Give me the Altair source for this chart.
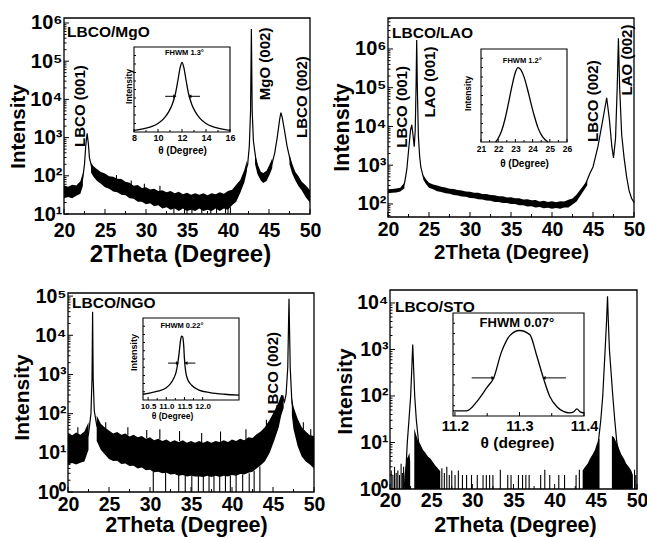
import altair as alt
import pandas as pd

W, H = 647, 538
FONT = "Liberation Sans"
INK = "black"

# ======================= DATA (estimated from the figure) =======================
X_TICKS = [20, 25, 30, 35, 40, 45, 50]
X_MINOR = [22.5, 27.5, 32.5, 37.5, 42.5, 47.5]

# ---- (a) LBCO/MgO : (2theta, counts)
A_LINE = [(20, 38), (21, 38), (22, 50), (22.3, 90), (22.5, 200), (22.65, 600), (22.82, 1300),
          (22.97, 700), (23.1, 300), (23.4, 160), (23.8, 120), (24.5, 90), (25, 75), (26, 62),
          (27, 52), (28, 42), (30, 32), (32, 27), (34, 24), (36, 22), (38, 22), (40, 24),
          (41, 36), (41.5, 55), (42, 100), (42.4, 200), (42.6, 600), (42.75, 5000),
          (42.85, 700000), (42.95, 5000), (43.1, 800), (43.4, 270), (43.8, 120), (44.3, 90),
          (44.8, 110), (45.3, 180), (45.7, 400), (46.0, 1000), (46.3, 3000), (46.45, 4500),
          (46.6, 3500), (46.9, 1500), (47.2, 600), (47.6, 250), (48, 120), (48.5, 70),
          (49, 48), (49.5, 35), (50, 28)]
A_NOISE = [
    [(20, 26, 56), (20.5, 28, 52), (21, 26, 58), (21.5, 30, 56), (22, 34, 72), (22.3, 55, 120)],
    [(23.3, 120, 220), (23.6, 95, 178), (24, 74, 150), (24.5, 62, 125), (25, 50, 115),
     (25.5, 46, 98), (26, 39, 95), (26.5, 37, 84), (27, 32, 82), (27.5, 31, 70), (28, 26, 66),
     (28.5, 25, 55), (29, 21, 57), (29.5, 21, 48), (30, 18, 50), (30.5, 19, 44), (31, 16, 46),
     (31.5, 17, 40), (32, 14, 42), (32.5, 15, 37), (33, 13, 40), (33.5, 14, 35), (34, 12, 38),
     (34.5, 14, 33), (35, 12, 36), (35.5, 13, 32), (36, 12, 35), (36.5, 14, 32), (37, 12, 35),
     (37.5, 13, 31), (38, 12, 35), (38.5, 14, 33), (39, 12, 37), (39.5, 14, 34), (40, 13, 40),
     (40.5, 17, 43), (41, 21, 58), (41.5, 36, 78), (42, 68, 145), (42.3, 130, 250)],
    [(43.3, 200, 380), (43.6, 110, 205), (44, 75, 128), (44.3, 65, 118), (44.7, 73, 135),
     (45.1, 110, 205), (45.4, 160, 290)],
    [(47.5, 200, 360), (47.8, 118, 215), (48.2, 76, 128), (48.6, 53, 97), (49, 41, 70),
     (49.5, 27, 56), (50, 20, 42)],
]
A_SPIKES = [(33.4, 10.3, 14), (34.7, 10.3, 14), (35.6, 10.3, 14), (36.8, 10.3, 14),
            (37.9, 10.3, 14), (38.6, 10.3, 14), (39.7, 10.3, 14), (40.3, 10.3, 15),
            (26.4, 80, 105), (28.2, 55, 75), (29.8, 45, 62), (31.7, 40, 55)]
A_INSET = [(8.0, 0.02), (8.5, 0.03), (9.0, 0.045), (9.5, 0.065), (10.0, 0.1), (10.5, 0.16),
           (10.9, 0.24), (11.2, 0.33), (11.45, 0.45), (11.65, 0.6), (11.85, 0.76), (12.0, 0.82),
           (12.15, 0.76), (12.35, 0.6), (12.55, 0.45), (12.8, 0.33), (13.1, 0.24), (13.5, 0.16),
           (14.0, 0.1), (14.5, 0.065), (15.0, 0.045), (15.5, 0.03), (16.0, 0.02)]

# ---- (b) LBCO/LAO
B_LINE = [(20, 210), (21, 220), (21.5, 230), (22.0, 330), (22.15, 500), (22.3, 800),
          (22.55, 3000), (22.75, 8000), (22.9, 11000), (23.05, 6000), (23.2, 3000),
          (23.32, 8000), (23.42, 100000), (23.5, 1700000), (23.58, 100000), (23.7, 6000),
          (23.85, 1800), (24.0, 900), (24.3, 500), (24.7, 350), (25, 300), (26, 250), (27, 222),
          (28, 200), (30, 172), (32, 150), (34, 130), (36, 115), (38, 102), (40, 95), (41, 95),
          (42, 103), (43, 145), (44, 290), (44.6, 600), (45.0, 900), (45.6, 3000),
          (46.2, 15000), (46.67, 55000), (47.0, 15000), (47.3, 3000), (47.5, 1550),
          (47.75, 5000), (47.95, 100000), (48.1, 1900000), (48.25, 100000), (48.5, 6000),
          (48.8, 1500), (49.1, 500), (49.4, 220), (49.7, 140), (50, 110)]
B_NOISE = [
    [(20, 188, 238), (20.5, 194, 242), (21, 196, 250), (21.5, 208, 260), (22, 255, 350)],
    [(24.3, 430, 570), (24.6, 330, 440), (25, 262, 350), (25.5, 238, 318), (26, 214, 298),
     (26.5, 202, 276), (27, 188, 266), (27.5, 184, 246), (28, 170, 242), (28.5, 166, 228),
     (29, 155, 222), (29.5, 153, 208), (30, 143, 207), (30.5, 141, 193), (31, 132, 194),
     (31.5, 131, 180), (32, 123, 181), (32.5, 121, 170), (33, 113, 168), (33.5, 113, 158),
     (34, 105, 158), (34.5, 106, 147), (35, 99, 148), (35.5, 100, 140), (36, 92, 140),
     (36.5, 93, 130), (37, 86, 132), (37.5, 87, 124), (38, 81, 126), (38.5, 83, 116),
     (39, 77, 120), (39.5, 80, 112), (40, 75, 117), (40.5, 79, 110), (41, 75, 118),
     (41.5, 81, 116), (42, 81, 128), (42.5, 97, 139), (43, 116, 175), (43.7, 195, 275),
     (44.3, 305, 410)],
]
B_INSET = [(21.85, 0.0), (22.0, 0.04), (22.2, 0.12), (22.4, 0.25), (22.6, 0.42), (22.8, 0.6),
           (23.0, 0.75), (23.15, 0.8), (23.3, 0.78), (23.5, 0.7), (23.7, 0.57), (23.9, 0.42),
           (24.1, 0.28), (24.3, 0.16), (24.5, 0.08), (24.7, 0.03), (24.9, 0.0)]

# ---- (c) LBCO/NGO
C_LINE = [(20, 14), (21, 14), (22, 15), (22.5, 30), (22.8, 100), (22.93, 800), (23.0, 40000),
          (23.07, 800), (23.2, 120), (23.5, 50), (24, 28), (25, 18), (26, 15), (27, 13),
          (28, 11), (30, 9.5), (32, 8.5), (34, 7.5), (36, 7), (38, 7), (40, 7.5), (42, 9),
          (43, 12), (44, 20), (44.8, 40), (45.4, 80), (45.9, 160), (46.2, 250), (46.4, 200),
          (46.6, 320), (46.8, 1500), (46.95, 85000), (47.1, 1500), (47.3, 200), (47.6, 80),
          (48, 40), (48.5, 22), (49, 15), (49.5, 12), (50, 10)]
C_NOISE = [
    [(20, 5, 32), (20.5, 5.5, 28), (21, 5, 33), (21.5, 5.6, 29), (22, 6, 35), (22.5, 12, 60)],
    [(23.5, 20, 90), (24, 12, 55), (24.5, 9, 44), (25, 7, 37), (25.5, 6.2, 31), (26, 6.3, 34),
     (26.5, 5.2, 29), (27, 5.3, 31), (27.5, 4.6, 26), (28, 4.7, 29), (28.5, 4, 25),
     (29, 4.2, 27), (29.5, 3.6, 23), (30, 3.7, 25), (30.5, 3.2, 21), (31, 3.3, 23),
     (31.5, 3, 20), (32, 3.1, 22), (32.5, 2.8, 19), (33, 2.9, 21), (33.5, 2.6, 19),
     (34, 2.7, 21), (34.5, 2.5, 18), (35, 2.6, 20), (35.5, 2.5, 18), (36, 2.5, 20),
     (36.5, 2.4, 18), (37, 2.6, 20), (37.5, 2.4, 18), (38, 2.6, 20), (38.5, 2.4, 19),
     (39, 2.6, 21), (39.5, 2.5, 19), (40, 2.7, 22), (40.5, 2.6, 20), (41, 2.9, 23),
     (41.5, 2.8, 21), (42, 3.1, 25), (42.5, 3.3, 24), (43, 4, 30), (43.5, 4.8, 35),
     (44, 6, 45), (44.6, 10, 70), (45.2, 22, 120), (45.7, 45, 200), (46.0, 90, 300),
     (46.3, 140, 290)],
    [(47.3, 90, 260), (47.5, 40, 150), (48, 15, 75), (48.5, 8, 45), (49, 6, 35),
     (49.5, 5, 28), (50, 4, 27)],
]
C_SPIKES = [(30.4, 1, 3.5), (31.9, 1, 3.2), (33.5, 1, 2.8), (34.3, 1, 2.7), (35.1, 1, 2.6),
            (35.9, 1, 2.6), (36.5, 1, 2.6), (37.2, 1, 2.6), (37.8, 1, 2.6), (38.5, 1, 2.6),
            (39.2, 1, 2.6), (39.8, 1, 2.6), (40.5, 1, 2.7), (41.3, 1, 2.8), (42.1, 1, 3),
            (42.7, 1, 3.5), (43.4, 1, 4.5),
            (21.2, 28, 45), (24.6, 40, 60), (27.3, 28, 45), (29.6, 24, 38), (31.2, 22, 40),
            (33.6, 20, 36), (36.3, 19, 32), (38.6, 19, 35), (41.7, 22, 40), (44.2, 45, 70),
            (48.7, 40, 60), (49.6, 27, 40)]
C_INSET = [(10.36, 0.07), (10.6, 0.09), (10.8, 0.11), (11.0, 0.15), (11.1, 0.19), (11.2, 0.26),
           (11.27, 0.34), (11.32, 0.46), (11.36, 0.6), (11.39, 0.72), (11.42, 0.78),
           (11.45, 0.77), (11.48, 0.66), (11.5, 0.5), (11.53, 0.36), (11.58, 0.26),
           (11.7, 0.18), (11.9, 0.12), (12.2, 0.09), (12.6, 0.07), (13.0, 0.06)]

# ---- (d) LBCO/STO
D_PEAKS = [
    [(21.7, 1), (21.9, 2), (22.1, 10), (22.3, 30), (22.51, 100), (22.65, 400), (22.76, 1270),
     (22.87, 400), (23.0, 100), (23.2, 30), (23.48, 10), (23.8, 5), (24.2, 3), (24.6, 2),
     (25, 1)],
    [(44.6, 1.5), (45.0, 5), (45.3, 10), (45.6, 30), (45.84, 100), (46.13, 1000),
     (46.3, 4000), (46.42, 14000), (46.52, 4000), (46.65, 1000), (47.06, 100), (47.3, 30),
     (47.55, 10), (48.0, 4), (48.5, 2), (49, 1)],
]
D_FILL = [
    [(21.75, 2), (21.9, 3), (22.05, 4.5), (22.2, 5), (22.35, 6), (22.45, 4)],
    [(22.95, 20), (23.15, 15), (23.4, 11), (23.7, 9), (24.0, 7), (24.3, 6), (24.6, 5),
     (24.9, 4.5), (25.2, 3.8), (25.5, 3.2), (25.8, 2.8), (26.1, 2.4)],
    [(43.4, 2.5), (43.7, 3), (44.0, 3.5), (44.3, 4.5), (44.6, 5.5), (44.9, 7), (45.1, 9),
     (45.3, 11), (45.45, 12)],
    [(46.95, 14), (47.2, 13), (47.5, 10), (47.8, 7.5), (48.1, 5.5), (48.4, 4.5), (48.7, 3.5),
     (49.0, 3), (49.3, 2.5), (49.5, 2)],
]
D_SPIKES = [(20.15, 2.5), (20.35, 2), (20.55, 3), (20.75, 2.2), (20.95, 2.5), (21.15, 2),
            (21.35, 3.5), (21.5, 2.2), (21.65, 3), (26.3, 2.8), (26.6, 2.2), (26.9, 3),
            (27.2, 2), (27.5, 2.5), (27.9, 2), (28.3, 2.5), (28.8, 2), (29.3, 2), (29.9, 2),
            (30.6, 2), (31.3, 2), (31.7, 2), (32.1, 2), (32.5, 2), (33.4, 2.6), (34.3, 2),
            (34.7, 2), (35.6, 2), (36.1, 2), (36.5, 2), (36.9, 2), (38.3, 2), (38.8, 2.6),
            (39.4, 2), (40.5, 2), (41.2, 2), (42.6, 2), (43.0, 2.6), (49.7, 2.6), (49.85, 2)]
D_INSET = [(11.197, 0.05), (11.205, 0.05), (11.218, 0.05), (11.234, 0.14), (11.25, 0.28),
           (11.26, 0.37), (11.272, 0.62), (11.285, 0.78), (11.3, 0.83), (11.316, 0.79),
           (11.327, 0.58), (11.337, 0.37), (11.347, 0.19), (11.358, 0.09), (11.368, 0.045),
           (11.378, 0.03), (11.384, 0.04), (11.389, 0.07), (11.394, 0.04), (11.4, 0.03)]

# text annotations (x, y, text)
A_NAME = [(20.37, 5.8e5, "LBCO/MgO")]
A_PEAKS = [(21.95, 6700, "LBCO (001)"), (44.5, 8.5e4, "MgO (002)"), (49.0, 1.15e4, "LBCO (002)")]
B_NAME = [(20.5, 2.6e6, "LBCO/LAO")]
B_PEAKS_T = [(21.7, 3.2e4, "LBCO (001)"), (25.1, 1.4e5, "LAO (001)"),
             (45.0, 4.5e4, "LBCO (002)"), (49.1, 5.2e5, "LAO (002)")]
C_NAME = [(20.5, 6.7e4, "LBCO/NGO")]
C_PEAKS_T = [(45.0, 1100, "LBCO (002)")]
D_NAME = [(20.6, 8200, "LBCO/STO")]

# ======================= LAYOUT (pixel boxes: x0, x1, ytop, ybottom) =======================
PA = dict(box=(64, 310, 18, 214), xd=(20, 50), yd=(10, 1.35e6), dec=[10, 1e2, 1e3, 1e4, 1e5, 1e6])
PB = dict(box=(388, 634, 18, 217), xd=(20, 50), yd=(46, 6.3e6), dec=[1e2, 1e3, 1e4, 1e5, 1e6])
PC = dict(box=(68, 314, 293, 492), xd=(20, 50), yd=(1, 1.2e5), dec=[1, 10, 1e2, 1e3, 1e4, 1e5])
PD = dict(box=(390, 637, 290, 489), xd=(20, 50), yd=(1, 1.9e4), dec=[1, 10, 1e2, 1e3, 1e4])
IA = dict(box=(134, 230, 47, 132), xd=(8, 16), yd=(0, 1))
IB = dict(box=(481, 567, 49, 142), xd=(21, 26), yd=(0, 1))
IC = dict(box=(143, 239, 318, 400), xd=(10.36, 13.0), yd=(0, 1))
ID = dict(box=(453, 584, 313, 416), xd=(11.197, 11.4), yd=(0, 1))

SUP = "'10' + ['\u2070','\u00b9','\u00b2','\u00b3','\u2074','\u2075','\u2076','\u2077'][round(log(datum.value)/LN10)]"


def scales(p, log=True):
    x0, x1, y0, y1 = p["box"]
    xs = alt.Scale(domain=list(p["xd"]), range=[x0, x1], nice=False, zero=False)
    if log:
        ys = alt.Scale(type="log", domain=list(p["yd"]), range=[y1, y0], nice=False)
    else:
        ys = alt.Scale(domain=list(p["yd"]), range=[y1, y0], nice=False, zero=False)
    return xs, ys


def X(f, xs):
    return alt.X(f, type="quantitative", scale=xs, axis=None)


def Y(f, ys):
    return alt.Y(f, type="quantitative", scale=ys, axis=None)


def line(pairs, p, log=True, sw=1.2, interp="linear", segs=False):
    xs, ys = scales(p, log)
    if segs:
        rows = [dict(s=i, x=a, y=b) for i, seg in enumerate(pairs) for a, b in seg]
    else:
        rows = [dict(s=0, x=a, y=b) for a, b in pairs]
    return alt.Chart(pd.DataFrame(rows)).mark_line(color=INK, strokeWidth=sw, interpolate=interp).encode(
        x=X("x", xs), y=Y("y", ys), detail="s:N")


def band(segs, p):
    xs, ys = scales(p)
    rows = [dict(s=i, x=a, lo=b, hi=c) for i, seg in enumerate(segs) for a, b, c in seg]
    return alt.Chart(pd.DataFrame(rows)).mark_area(color=INK, opacity=1).encode(
        x=X("x", xs), y=Y("lo", ys), y2="hi:Q", detail="s:N")


def fill_from_floor(segs, p):
    xs, ys = scales(p)
    rows = [dict(s=i, x=a, lo=p["yd"][0], hi=b) for i, seg in enumerate(segs) for a, b in seg]
    return alt.Chart(pd.DataFrame(rows)).mark_area(color=INK, opacity=1).encode(
        x=X("x", xs), y=Y("lo", ys), y2="hi:Q", detail="s:N")


def rules(trips, p, sw=1.1):
    xs, ys = scales(p)
    df = pd.DataFrame(trips, columns=["x", "y", "y2"])
    return alt.Chart(df).mark_rule(color=INK, strokeWidth=sw).encode(x=X("x", xs), y=Y("y", ys), y2="y2:Q")


def texts(rows, p, size, angle=0, align="center", weight="bold", log=True):
    xs, ys = scales(p, log)
    df = pd.DataFrame(rows, columns=["x", "y", "t"])
    return alt.Chart(df).mark_text(font=FONT, fontSize=size, fontWeight=weight, angle=angle, align=align,
                                   baseline="middle", color=INK).encode(x=X("x", xs), y=Y("y", ys), text="t:N")


def xticks(vals, p, size, log=True):
    xs, ys = scales(p, log)
    df = pd.DataFrame({"x": vals, "y": [p["yd"][0]] * len(vals)})
    return alt.Chart(df).mark_tick(orient="vertical", size=size, thickness=1, color=INK, yOffset=-size / 2,
                                   opacity=1).encode(x=X("x", xs), y=Y("y", ys))


def yticks(vals, p, size, log=True):
    xs, ys = scales(p, log)
    df = pd.DataFrame({"x": [p["xd"][0]] * len(vals), "y": vals})
    return alt.Chart(df).mark_tick(orient="horizontal", size=size, thickness=1, color=INK, xOffset=size / 2,
                                   opacity=1).encode(x=X("x", xs), y=Y("y", ys))


def frame(p, log=True, white=False, xaxis=None, yaxis=None, sw=1.3):
    xs, ys = scales(p, log)
    df = pd.DataFrame([dict(x=p["xd"][0], x2=p["xd"][1], y=p["yd"][0], y2=p["yd"][1])])
    return alt.Chart(df).mark_rect(stroke=INK, strokeWidth=sw, fill="white",
                                   fillOpacity=1 if white else 0).encode(
        x=alt.X("x", type="quantitative", scale=xs, axis=xaxis), x2="x2:Q",
        y=alt.Y("y", type="quantitative", scale=ys, axis=yaxis), y2="y2:Q")


def main_axes(p, lab_pad, lab_size, title_size, tx, ty, ytx, yty, ylab_size, ytitle_size):
    x0, x1, y0, y1 = p["box"]
    xa = alt.Axis(orient="bottom", offset=y1 - H, values=X_TICKS, format="d", ticks=False, domain=False,
                  grid=False, labelFlush=False, labelOverlap=False, labelFont=FONT, labelFontSize=lab_size,
                  labelFontWeight="bold", labelColor=INK, labelPadding=lab_pad, title="2Theta (Degree)",
                  titleFont=FONT, titleFontSize=title_size, titleFontWeight="bold", titleColor=INK,
                  titleX=tx, titleY=ty - y1, titleBaseline="middle", titleAlign="center")
    ya = alt.Axis(orient="left", offset=-x0, values=p["dec"], labelExpr=SUP, ticks=False, domain=False,
                  grid=False, labelOverlap=False, labelFont=FONT, labelFontSize=ylab_size,
                  labelFontWeight="bold", labelColor=INK, labelPadding=2, title="Intensity",
                  titleFont=FONT, titleFontSize=ytitle_size, titleFontWeight="bold", titleColor=INK,
                  titleX=ytx - x0, titleY=yty, titleBaseline="middle", titleAlign="center", titleAngle=270)
    return xa, ya


def inset_axes(p, vals, fmt, lab_pad, lab_size, title, title_size, tx, ty, ytitle=None, ytx=0, yty=0,
               ysize=9):
    x0, x1, y0, y1 = p["box"]
    xa = alt.Axis(orient="bottom", offset=y1 - H, values=vals, format=fmt, ticks=False, domain=False,
                  grid=False, labelFlush=False, labelOverlap=False, labelFont=FONT, labelFontSize=lab_size,
                  labelFontWeight="bold", labelColor=INK, labelPadding=lab_pad, title=title,
                  titleFont=FONT, titleFontSize=title_size, titleFontWeight="bold", titleColor=INK,
                  titleX=tx, titleY=ty - y1, titleBaseline="middle", titleAlign="center")
    if ytitle:
        ya = alt.Axis(orient="left", offset=-x0, labels=False, ticks=False, domain=False, grid=False,
                      title=ytitle, titleFont=FONT, titleFontSize=ysize, titleFontWeight="bold",
                      titleColor=INK, titleX=ytx - x0, titleY=yty, titleBaseline="middle",
                      titleAlign="center", titleAngle=270)
    else:
        ya = None
    return xa, ya


def log_minor(p):
    lo, hi = p["yd"]
    out = []
    d = 1e-3
    while d < hi:
        for k in range(2, 10):
            v = k * d
            if lo < v < hi:
                out.append(v)
        d *= 10
    return out


def arrows(segs, p, size=14):
    xs, ys = scales(p, False)
    lines = [dict(x=a, x2=b, y=yv) for a, b, yv, _ in segs]
    heads = [dict(x=b, y=yv, sh=sh) for a, b, yv, sh in segs]
    l = alt.Chart(pd.DataFrame(lines)).mark_rule(color=INK, strokeWidth=1).encode(
        x=X("x", xs), x2="x2:Q", y=Y("y", ys))
    h = alt.Chart(pd.DataFrame(heads)).mark_point(filled=True, color=INK, size=size, opacity=1).encode(
        x=X("x", xs), y=Y("y", ys),
        shape=alt.Shape("sh:N", scale=alt.Scale(domain=["r", "l"], range=["triangle-right", "triangle-left"]),
                        legend=None))
    return [l, h]


layers = []


def main_panel(p, line_data, noise, spikes, xa, ya, name, peaks, segs=False, fill=None, dspikes=None,
               name_size=15.5, peak_size=15):
    L = []
    if noise:
        L.append(band(noise, p))
    if fill:
        L.append(fill_from_floor(fill, p))
    if spikes:
        L.append(rules(spikes, p))
    if dspikes:
        L.append(rules([(a, p["yd"][0], b) for a, b in dspikes], p))
    L.append(line(line_data, p, segs=segs))
    L.append(xticks(X_TICKS, p, 5))
    L.append(xticks(X_MINOR, p, 3))
    L.append(yticks(p["dec"], p, 5))
    L.append(yticks(log_minor(p), p, 2.5))
    L.append(frame(p, xaxis=xa, yaxis=ya))
    L.append(texts(name, p, name_size, align="left"))
    if peaks:
        L.append(texts(peaks, p, peak_size, angle=270))
    return L


def inset_panel(p, curve, xa, ya, xt_major, xt_minor, label, label_size, arrow_segs=None, tick_len=3):
    L = [frame(p, log=False, white=True, xaxis=xa, yaxis=ya, sw=1.1)]
    L.append(xticks(xt_major, p, tick_len, log=False))
    if xt_minor:
        L.append(xticks(xt_minor, p, tick_len - 1, log=False))
    L.append(yticks([0.1, 0.2, 0.3, 0.4, 0.5, 0.6, 0.7, 0.8, 0.9], p, 2, log=False))
    L.append(line(curve, p, log=False, sw=1.3, interp="monotone"))
    if arrow_segs:
        L += arrows(arrow_segs, p)
    L.append(texts(label, p, label_size, log=False))
    return L


# ---- panel (a)
xa, ya = main_axes(PA, 7, 19.5, 24, 180, 254, 18, 126, 20, 20.5)
layers += main_panel(PA, A_LINE, A_NOISE, A_SPIKES, xa, ya, A_NAME, A_PEAKS)
xa, ya = inset_axes(IA, [8, 10, 12, 14, 16], "d", 1, 9, "\u03b8 (Degree)", 10, 182, 150,
                    "Intensity", 128, 86, 8.5)
layers += inset_panel(IA, A_INSET, xa, ya, [8, 10, 12, 14, 16], [9, 11, 13, 15],
                      [(12.2, 0.93, "FHWM 1.3\u00b0")], 7.5,
                      arrow_segs=[(10.6, 11.4, 0.42, "r"), (13.5, 12.65, 0.42, "l")])

# ---- panel (b)
xa, ya = main_axes(PB, 3, 19.5, 20.5, 511, 252, 342, 127, 20, 21.5)
layers += main_panel(PB, B_LINE, B_NOISE, None, xa, ya, B_NAME, B_PEAKS_T)
xa, ya = inset_axes(IB, [21, 22, 23, 24, 25, 26], "d", 2, 8.5, "\u03b8 (Degree)", 10, 524, 163,
                    "Intensity", 467, 93, 8.5)
layers += inset_panel(IB, B_INSET, xa, ya, [21, 22, 23, 24, 25, 26], [21.5, 22.5, 23.5, 24.5, 25.5],
                      [(23.4, 0.87, "FHWM 1.2\u00b0")], 7.5)

# ---- panel (c)
xa, ya = main_axes(PC, 3, 19.5, 21.5, 186, 525, 22, 397, 19.5, 21)
layers += main_panel(PC, C_LINE, C_NOISE, C_SPIKES, xa, ya, C_NAME, C_PEAKS_T)
xa, ya = inset_axes(IC, [10.5, 11.0, 11.5, 12.0], ".1f", 2, 8, "\u03b8 (Degree)", 8.5, 172, 415,
                    "Intensity", 133, 352, 9)
layers += inset_panel(IC, C_INSET, xa, ya, [10.5, 11.0, 11.5, 12.0], [10.75, 11.25, 11.75],
                      [(11.43, 0.9, "FHWM 0.22\u00b0")], 7.5,
                      arrow_segs=[(11.05, 11.31, 0.45, "r"), (11.8, 11.54, 0.45, "l")])

# ---- panel (d)
xa, ya = main_axes(PD, 2, 19.5, 21.5, 515, 525, 345, 391, 19.5, 21)
layers += main_panel(PD, D_PEAKS, None, None, xa, ya, D_NAME, None, segs=True, fill=D_FILL,
                     dspikes=D_SPIKES)
xa, ya = inset_axes(ID, [11.2, 11.3, 11.4], ".1f", 3, 14.5, "\u03b8 (degree)", 15.5, 517, 442)
layers += inset_panel(ID, D_INSET, xa, ya, [11.2, 11.3, 11.4], [11.25, 11.35],
                      [(11.296, 0.9, "FHWM 0.07\u00b0")], 13,
                      arrow_segs=[(11.226, 11.259, 0.37, "r"), (11.372, 11.338, 0.37, "l")],
                      tick_len=4)

chart = alt.layer(*layers).resolve_scale(
    x="independent", y="independent", shape="independent"
).resolve_axis(x="independent", y="independent").properties(
    width=W, height=H, padding=0, autosize=alt.AutoSizeParams(type="none"), background="white"
).configure_view(stroke=None)

chart.save("out.html", embed_options={"renderer": "svg", "actions": False})
